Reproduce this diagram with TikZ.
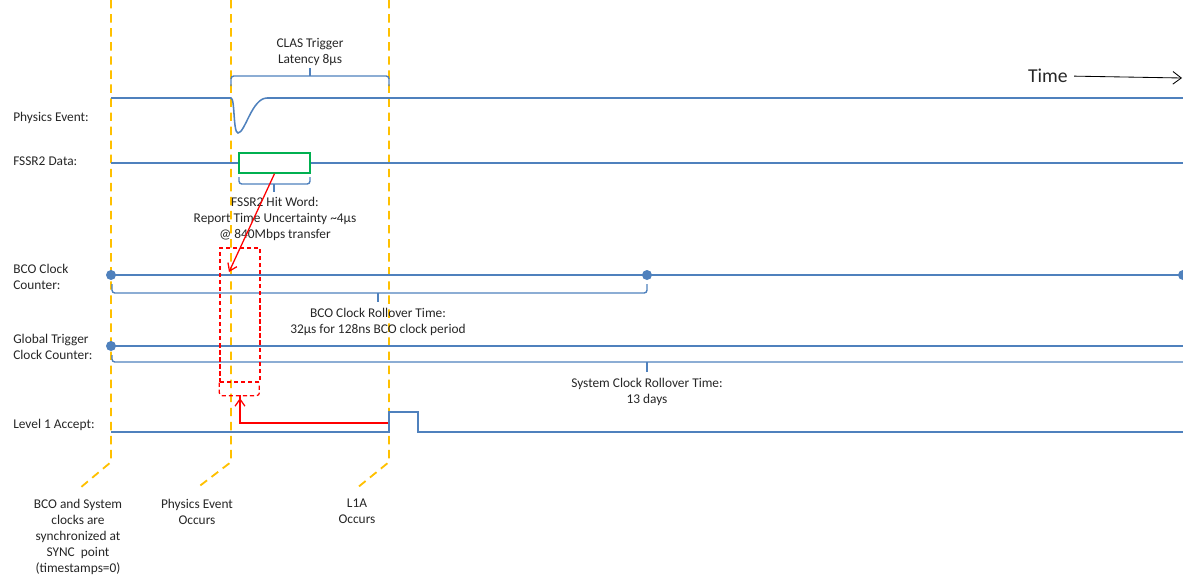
\documentclass[tikz,border=0pt]{standalone}
\usepackage{fontspec}
\setmainfont{Carlito}
\usetikzlibrary{arrows.meta}
\definecolor{wave}{HTML}{4F81BD}
\definecolor{syncy}{HTML}{FFC000}
\definecolor{alert}{HTML}{FF0000}
\definecolor{wordgreen}{HTML}{00B050}
\definecolor{ink}{HTML}{262626}

\begin{document}
\begin{tikzpicture}[x=0.025cm,y=-0.025cm,font=\fontsize{9.5}{11.4}\selectfont,text=ink,
  sig/.style={draw=wave,line width=1.1pt},
  syncline/.style={draw=syncy,line width=1.3pt,dash pattern=on 6pt off 4pt},
  bracket/.style={draw=wave,line width=1pt,rounded corners=2pt},
  rowlabel/.style={anchor=north west,align=left,inner sep=0pt},
  note/.style={anchor=north,align=center,inner sep=0pt},
  redline/.style={draw=alert,line width=0.9pt}]
  \useasboundingbox (0,0) rectangle (1183,575);

  % sync markers
  \foreach \x/\ex in {111/80,231/197,389/357}
    \draw[syncline] (\x,0) -- (\x,462) -- (\ex,488);
  \node[note] (syncnote) at (78,499) {BCO and System\\clocks are\\synchronized at\\SYNC\ \ point\\(timestamps=0)};
  \node[note] (physnote) at (197,499) {Physics Event\\Occurs};
  \node[note] (l1anote) at (357,499) {L1A\\Occurs};

  % row labels
  \node[rowlabel] (lphys) at (13,112) {Physics Event:};
  \node[rowlabel] (lfssr) at (13,157) {FSSR2 Data:};
  \node[rowlabel] (lbco) at (13,264) {BCO Clock\\Counter:};
  \node[rowlabel] (lgtc) at (13,334) {Global Trigger\\Clock Counter:};
  \node[rowlabel] (llone) at (13,419) {Level 1 Accept:};

  % time axis
  \node[anchor=north east,inner sep=0pt,font=\fontsize{14}{16}\selectfont] (tlabel) at (1068,69) {Time};
  \coordinate (tend) at (1182,78);
  \draw[black,line width=0.6pt,-{Straight Barb[length=6pt,width=9pt]}] (tlabel.east) ++(6,0) -- (tend);

  % CLAS trigger latency
  \draw[bracket] (231,86) -- (231,76) -- (389,76) -- (389,86);
  \draw[bracket] (310,76) -- (310,68);
  \node[note] (latency) at (310,38) {CLAS Trigger\\Latency 8µs};

  % physics event
  \draw[sig] (111,98) -- (231,98) .. controls (235,98) and (233,133) .. (238,133)
    .. controls (245,133) and (252,98) .. (267,98) -- (1183,98);

  % FSSR2 data
  \draw[sig] (111,163) -- (1183,163);
  \node[draw=wordgreen,line width=1pt,fill=white,inner sep=0pt,
        minimum width=1.775cm,minimum height=0.5cm] (hitword) at (274.5,163) {};
  \draw[bracket] (239,177) -- (239,184) -- (310,184) -- (310,177);
  \draw[bracket] (274,184) -- (274,192);
  \node[note] (hitnote) at (275,197) {FSSR2 Hit Word:\\Report Time Uncertainty \textasciitilde4µs\\@ 840Mbps transfer};

  % BCO clock counter
  \draw[sig] (111,275) -- (1183,275);
  \foreach \x in {111,647,1183}
    \fill[wave] (\x,275) circle[radius=5];
  \draw[bracket] (112,284) -- (112,293) -- (647,293) -- (647,284);
  \draw[bracket] (378,293) -- (378,302);
  \node[note] (bconote) at (378,308) {BCO Clock Rollover Time:\\32µs for 128ns BCO clock period};

  % global trigger clock counter
  \draw[sig] (111,346) -- (1183,346);
  \fill[wave] (111,346) circle[radius=5];
  \draw[bracket] (112,355) -- (112,362) -- (1183,362);
  \draw[bracket] (647,362) -- (647,372);
  \node[note] (sysnote) at (647,378) {System Clock Rollover Time:\\13 days};

  % level 1 accept
  \draw[sig] (111,432) -- (389,432) -- (389,412) -- (418,412) -- (418,432) -- (1183,432);

  % readout window
  \node[draw=alert,line width=0.9pt,dash pattern=on 3pt off 2pt,inner sep=0pt,
        minimum width=1cm,minimum height=3.35cm] (window) at (240,315) {};
  \draw[redline,dash pattern=on 3pt off 2pt,rounded corners=2pt]
    (window.south west) -- ++(0,13) -- ++(40,0) -- ++(0,-13);
  \draw[redline] (240,395) -- (240,399);
  \coordinate (bcohit) at (229,272);
  \coordinate (winfoot) at (240,398);
  \coordinate (l1aflag) at (388,423);
  \draw[redline,-{Straight Barb[length=5pt,width=7pt]}] (hitword.south) -- (bcohit);
  \draw[redline,-{Straight Barb[length=5pt,width=7pt]}] (l1aflag) -| (winfoot);
\end{tikzpicture}
\end{document}
